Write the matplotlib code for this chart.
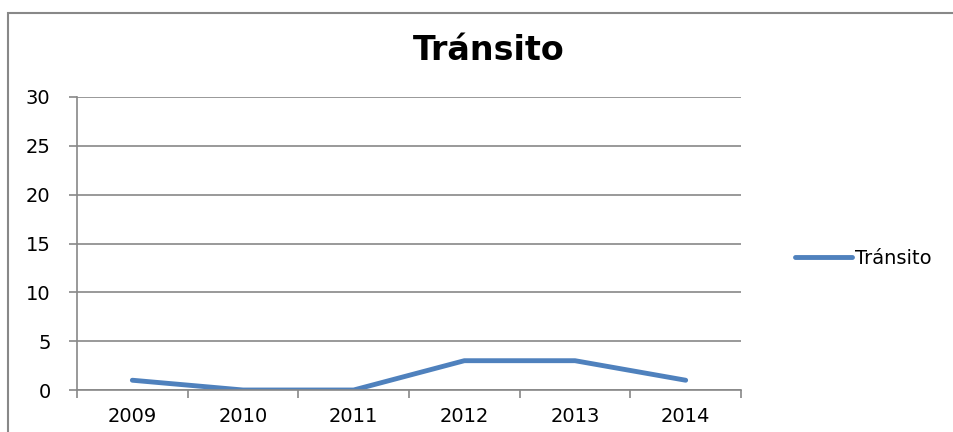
import matplotlib
matplotlib.use("Agg")
import matplotlib.pyplot as plt
from matplotlib.patches import Rectangle

years = ["2009", "2010", "2011", "2012", "2013", "2014"]
transito = [1, 0, 0, 3, 3, 1]
yticks = [0, 5, 10, 15, 20, 25, 30]

W, H = 954, 432
fig = plt.figure(figsize=(W / 100, H / 100), dpi=100)
fig.patch.set_facecolor("white")

# outer chart border (cropped on right/bottom)
fig.patches.append(Rectangle((8 / W, -0.1), 1.2, (H - 13) / H + 0.1, transform=fig.transFigure,
                             fill=False, edgecolor="#888888", linewidth=1.5))

ax = fig.add_axes([77 / W, (H - 390) / H, (741 - 77) / W, (390 - 97) / H])
x = list(range(len(years)))
ax.plot(x, transito, color="#4F81BD", linewidth=3.5, solid_capstyle="round", label="Tránsito")

ax.set_xlim(-0.5, len(years) - 0.5)
ax.set_ylim(0, 30)
ax.set_yticks(yticks)
ax.set_yticklabels([str(v) for v in yticks], fontsize=14)
ax.set_xticks(x)
ax.set_xticklabels(years, fontsize=14)
ax.set_xticks([i - 0.5 for i in range(len(years) + 1)], minor=True)
ax.tick_params(axis="x", which="major", length=0, pad=12)
ax.tick_params(axis="x", which="minor", length=6, color="#888888", width=1.2)
ax.tick_params(axis="y", length=6, color="#888888", width=1.2, pad=13)
ax.grid(axis="y", color="#888888", linewidth=1.2)
ax.set_axisbelow(True)
for s in ["top", "right"]:
    ax.spines[s].set_visible(False)
for s in ["left", "bottom"]:
    ax.spines[s].set_color("#888888")
    ax.spines[s].set_linewidth(1.2)

fig.text(489 / W, 1 - 50 / H, "Tránsito", fontsize=24, fontweight="bold", ha="center", va="center")

leg = fig.legend(loc="center left", bbox_to_anchor=(778 / W, 1 - 258 / H), frameon=False,
                 fontsize=14, handlelength=2.9, handletextpad=0.15)

fig.savefig("out.png", dpi=100, facecolor="white")
